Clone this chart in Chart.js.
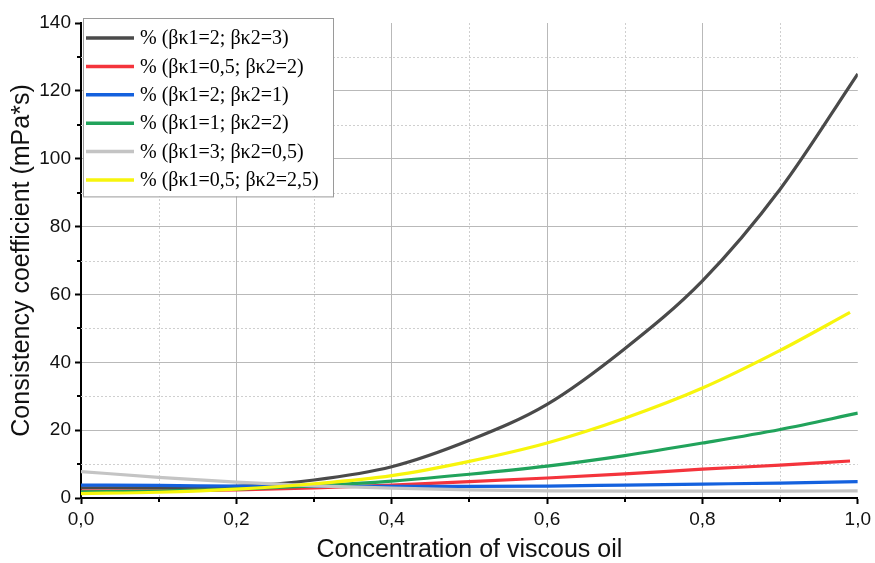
<!DOCTYPE html>
<html>
<head>
<meta charset="utf-8">
<script src="https://cdn.jsdelivr.net/npm/chart.js@4"></script>
<style>
  html, body { margin: 0; padding: 0; background: #fff; }
  #wrap { width: 875px; height: 563px; }
</style>
</head>
<body>
<div id="wrap"><canvas id="myChart" width="875" height="563"></canvas></div>
<script>
// Concentration steps (x); two curves stop just short of 1,0
const concentration = [0, 0.1, 0.2, 0.3, 0.4, 0.5, 0.6, 0.7, 0.8, 0.9, 1.0];
const concentrationShort = [0, 0.1, 0.2, 0.3, 0.4, 0.5, 0.6, 0.7, 0.8, 0.9, 0.99];

// Consistency coefficient, mPa*s
const k2k3 = [3.0, 3.0, 3.4, 5.3, 9.2, 17.0, 27.6, 44.0, 64.0, 91.0, 125.0];
const k05k2 = [2.0, 2.1, 2.4, 3.0, 3.8, 4.8, 5.9, 7.1, 8.5, 9.7, 10.9];
const k2k1 = [3.8, 3.7, 3.5, 3.4, 3.4, 3.4, 3.5, 3.8, 4.1, 4.4, 4.8];
const k1k2 = [1.8, 2.0, 2.6, 3.6, 5.0, 7.0, 9.4, 12.5, 16.2, 20.2, 25.0];
const k3k05 = [7.8, 6.1, 4.7, 3.6, 2.9, 2.4, 2.1, 2.0, 2.0, 2.0, 2.1];
const k05k25 = [1.3, 1.7, 2.6, 4.2, 6.6, 10.8, 16.2, 23.5, 32.4, 43.5, 54.7];

const seriesLabels = [
  '% (βκ1=2; βκ2=3)',
  '% (βκ1=0,5; βκ2=2)',
  '% (βκ1=2; βκ2=1)',
  '% (βκ1=1; βκ2=2)',
  '% (βκ1=3; βκ2=0,5)',
  '% (βκ1=0,5; βκ2=2,5)'
];
const seriesColors = ['#4a4a4a', '#f4343c', '#1461de', '#21a35b', '#c4c4c4', '#f7f50c'];

const yTicks = { min: 0, max: 140, major: 20, minor: 10 };
const xTicks = { min: 0, max: 1, major: 0.2, minor: 0.1 };

const seriesValues = [k2k3, k05k2, k2k1, k1k2, k3k05, k05k25];
const seriesX = [concentration, concentrationShort, concentration, concentration, concentration, concentrationShort];

const datasets = seriesValues.map((vals, i) => ({
  label: seriesLabels[i],
  data: vals.map((v, j) => ({ x: seriesX[i][j], y: v })),
  borderColor: seriesColors[i],
  backgroundColor: seriesColors[i],
  borderWidth: 3.2,
  pointRadius: 0,
  fill: false,
  cubicInterpolationMode: 'monotone',
  order: seriesValues.length - 1 - i  // later series painted on top
}));

const comma = v => v.toFixed(1).replace('.', ',');
const axisFont = 'Arial, "Liberation Sans", sans-serif';

// no grid line along the top and right edges
const gridColor = max => c => (c.tick && Math.abs(c.tick.value - max) < 1e-9) ? 'rgba(0,0,0,0)' : '#b9b9b9';

// dotted minor grid + minor tick marks
const minorGrid = {
  id: 'minorGrid',
  beforeDatasetsDraw(chart) {
    const { ctx, chartArea: a, scales: { x, y } } = chart;
    ctx.save();
    ctx.strokeStyle = '#cfcfcf';
    ctx.lineWidth = 1;
    ctx.setLineDash([2, 2]);
    for (let v = yTicks.minor; v < yTicks.max; v += yTicks.major) {
      const py = Math.round(y.getPixelForValue(v)) + 0.5;
      ctx.beginPath(); ctx.moveTo(a.left, py); ctx.lineTo(a.right, py); ctx.stroke();
    }
    for (let v = xTicks.minor; v < xTicks.max; v += xTicks.major) {
      const px = Math.round(x.getPixelForValue(v)) + 0.5;
      ctx.beginPath(); ctx.moveTo(px, a.top); ctx.lineTo(px, a.bottom); ctx.stroke();
    }
    ctx.setLineDash([]);
    ctx.strokeStyle = '#000';
    ctx.lineWidth = 2;
    for (let v = yTicks.minor; v < yTicks.max; v += yTicks.major) {
      const py = Math.round(y.getPixelForValue(v));
      ctx.beginPath(); ctx.moveTo(a.left - 4, py); ctx.lineTo(a.left, py); ctx.stroke();
    }
    for (let v = xTicks.minor; v < xTicks.max; v += xTicks.major) {
      const px = Math.round(x.getPixelForValue(v));
      ctx.beginPath(); ctx.moveTo(px, a.bottom); ctx.lineTo(px, a.bottom + 4); ctx.stroke();
    }
    ctx.restore();
  }
};

// boxed legend in the upper-left corner of the plot
const boxLegend = {
  id: 'boxLegend',
  afterDraw(chart) {
    const { ctx, chartArea: a } = chart;
    const left = a.left + 2, top = a.top - 5, w = 250, rowH = 28.4;
    const h = rowH * seriesLabels.length + 8;
    ctx.save();
    ctx.fillStyle = '#fff';
    ctx.fillRect(left, top, w, h);
    ctx.strokeStyle = '#9a9a9a';
    ctx.lineWidth = 1;
    ctx.strokeRect(left + 0.5, top + 0.5, w, h);
    ctx.font = '20px "Liberation Serif", "Times New Roman", serif';
    ctx.textBaseline = 'middle';
    ctx.fillStyle = '#000';
    chart.data.datasets.forEach((ds, i) => {
      const cy = top + 20 + i * rowH;
      ctx.strokeStyle = ds.borderColor;
      ctx.lineWidth = 3.5;
      ctx.beginPath(); ctx.moveTo(left + 3, cy); ctx.lineTo(left + 51, cy); ctx.stroke();
      ctx.fillText(ds.label, left + 57, cy + 1);
    });
    ctx.restore();
  }
};

const ctx = document.getElementById('myChart').getContext('2d');

const myChart = new Chart(ctx, {
  type: 'line',
  data: { datasets },
  plugins: [minorGrid, boxLegend],
  options: {
    responsive: false,
    animation: false,
    devicePixelRatio: 1,
    layout: { padding: { top: 23, right: 15, left: 0, bottom: 0 } },
    scales: {
      x: {
        type: 'linear',
        min: xTicks.min,
        max: xTicks.max,
        afterFit(scale) { scale.height = 65; },
        grid: { color: gridColor(xTicks.max), lineWidth: 1, tickColor: '#000', tickLength: 6, tickWidth: 2 },
        border: { color: '#000', width: 2 },
        ticks: {
          stepSize: xTicks.major,
          color: '#111',
          padding: 4,
          font: { family: axisFont, size: 19 },
          callback: v => comma(v)
        },
        title: {
          display: true,
          text: 'Concentration of viscous oil',
          color: '#111',
          font: { family: axisFont, size: 25, lineHeight: 1 },
          padding: 0
        }
      },
      y: {
        min: yTicks.min,
        max: yTicks.max,
        afterFit(scale) { scale.width = 81; },
        grid: { color: gridColor(yTicks.max), lineWidth: 1, tickColor: '#000', tickLength: 6, tickWidth: 2 },
        border: { color: '#000', width: 2 },
        ticks: {
          stepSize: yTicks.major,
          color: '#111',
          padding: 4,
          font: { family: axisFont, size: 19 }
        },
        title: {
          display: true,
          text: 'Consistency coefficient (mPa*s)',
          color: '#111',
          font: { family: axisFont, size: 25, lineHeight: 1 },
          padding: { top: 10, bottom: 0 }
        }
      }
    },
    plugins: {
      legend: { display: false },
      tooltip: { enabled: false }
    }
  }
});
</script>
</body>
</html>
